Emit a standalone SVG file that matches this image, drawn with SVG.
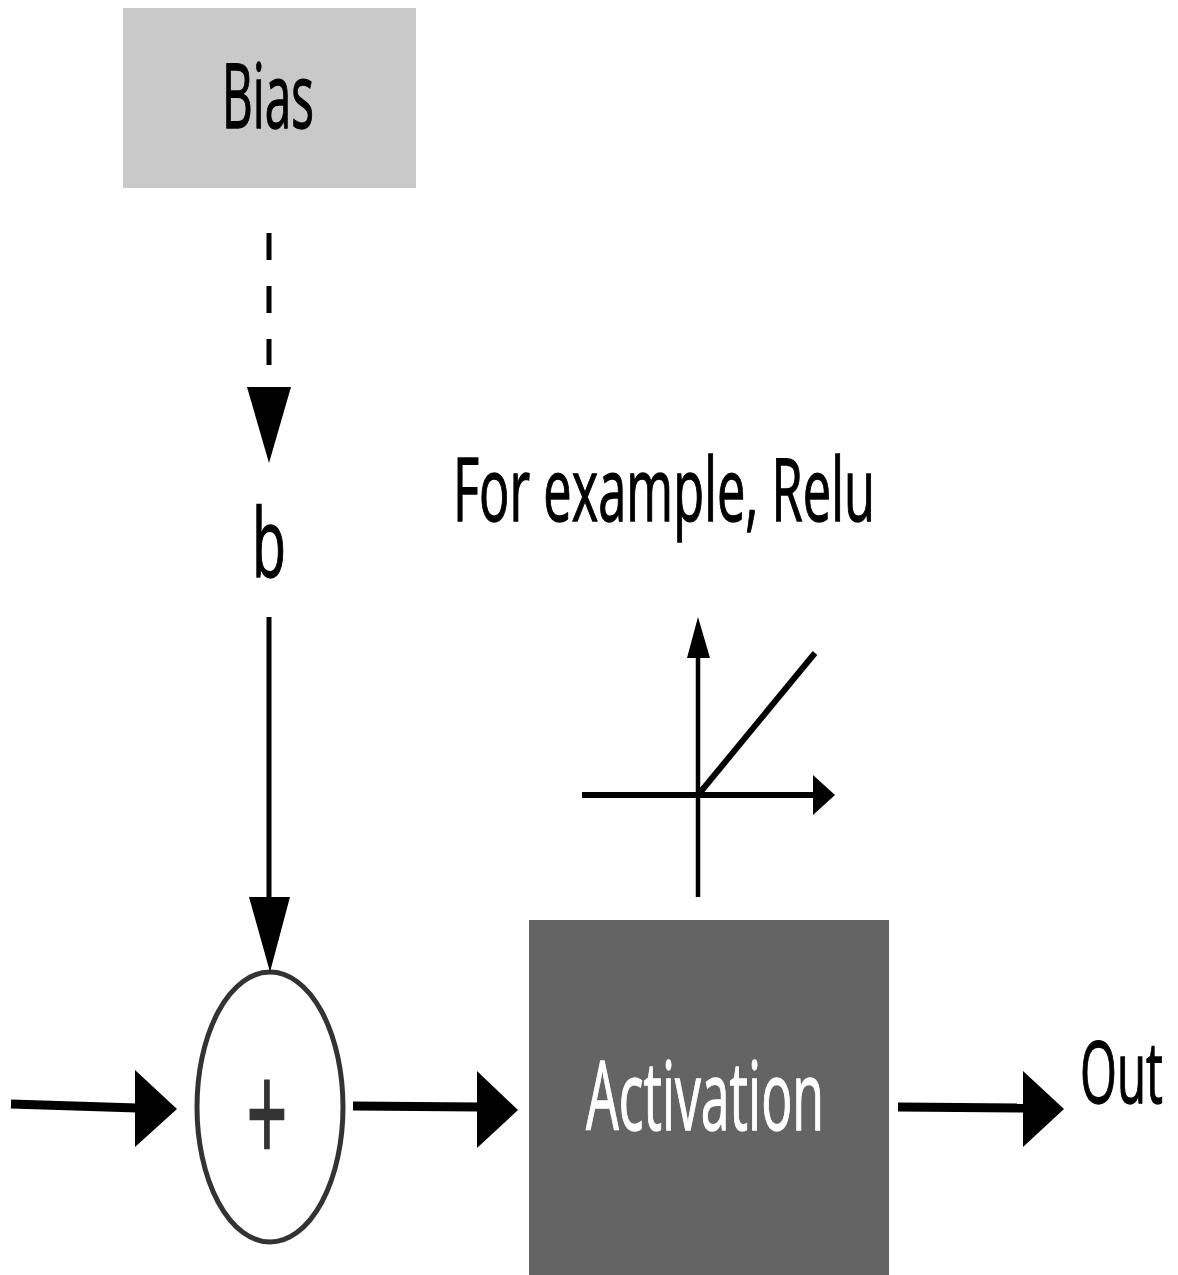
<svg xmlns="http://www.w3.org/2000/svg" width="1178" height="1275" viewBox="0 0 1178 1275">
  <style>
    .lbl { font-family: "Open Sans", "Liberation Sans", sans-serif; fill: #000; stroke: #000; stroke-width: 1.3; }
    .wlbl { fill: #fff; stroke: #fff; }
    .wire { stroke: #000; fill: none; stroke-linecap: butt; }
    .head { fill: #000; stroke: none; }
  </style>
  <rect x="0" y="0" width="1178" height="1275" fill="#fff"/>

  <g id="bias">
    <rect x="123" y="8" width="293" height="180" fill="#c9c9c9"/>
    <text class="lbl" x="268" y="128" font-size="90" text-anchor="middle" textLength="92" lengthAdjust="spacingAndGlyphs">Bias</text>
  </g>

  <g id="b-label">
    <text class="lbl" x="269" y="577" font-size="95" text-anchor="middle" textLength="34" lengthAdjust="spacingAndGlyphs">b</text>
  </g>

  <g id="sum">
    <ellipse cx="270" cy="1107" rx="73" ry="135" fill="#fff" stroke="#333" stroke-width="5"/>
    <text font-family="DejaVu Sans, sans-serif" font-size="107" fill="#333" stroke="#333" stroke-width="2.5" text-anchor="middle" transform="translate(267,1148) scale(0.5,1)">+</text>
  </g>

  <g id="activation">
    <rect x="529" y="920" width="360" height="355" fill="#646464"/>
    <text class="lbl wlbl" x="705" y="1130" font-size="95" text-anchor="middle" textLength="238" lengthAdjust="spacingAndGlyphs">Activation</text>
  </g>

  <g id="relu-caption">
    <text class="lbl" x="664" y="521" font-size="87" text-anchor="middle" textLength="422" lengthAdjust="spacingAndGlyphs">For example, Relu</text>
  </g>

  <g id="relu-plot">
    <line class="wire" x1="698" y1="897" x2="698" y2="655" stroke-width="4.5"/>
    <polygon class="head" points="687,658 710,658 698,617"/>
    <line class="wire" x1="582" y1="795" x2="815" y2="795" stroke-width="6"/>
    <polygon class="head" points="813,775 813,815 835,795"/>
    <line class="wire" x1="698" y1="795" x2="815" y2="653" stroke-width="6"/>
  </g>

  <g id="out-label">
    <text class="lbl" x="1080" y="1103" font-size="86" textLength="83" lengthAdjust="spacingAndGlyphs">Out</text>
  </g>

  <g id="connectors">
    <line class="wire" x1="269" y1="233" x2="269" y2="365" stroke-width="5" stroke-dasharray="27 26"/>
    <polygon class="head" points="247,387 291,387 269,463"/>
    <line class="wire" x1="269" y1="617" x2="269" y2="899" stroke-width="5"/>
    <polygon class="head" points="249,897 290,897 270,972"/>
    <line class="wire" x1="11" y1="1104" x2="137" y2="1108" stroke-width="9"/>
    <polygon class="head" points="135,1070 135,1147 177,1109"/>
    <line class="wire" x1="353" y1="1106" x2="479" y2="1107" stroke-width="9"/>
    <polygon class="head" points="477,1071 477,1148 518,1110"/>
    <line class="wire" x1="898" y1="1107" x2="1025" y2="1108" stroke-width="9"/>
    <polygon class="head" points="1023,1071 1023,1147 1064,1109"/>
  </g>
</svg>
